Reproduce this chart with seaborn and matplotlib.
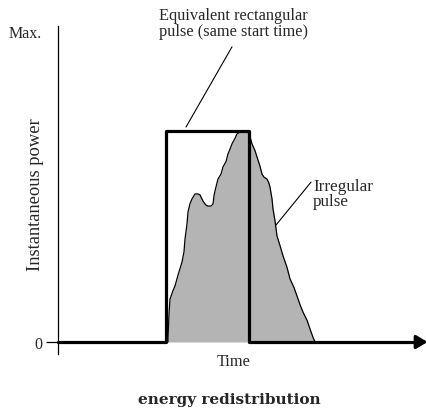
import matplotlib
matplotlib.use("Agg")
import matplotlib.pyplot as plt
import seaborn as sns
import pandas as pd

# Irregular pulse outline (time, instantaneous power as a fraction of Max.)
pulse_t = [11.0, 11.0, 11.1, 11.2, 11.5, 11.7, 12.0, 12.4, 12.6, 12.7, 12.9, 13.0,
           13.2, 13.4, 13.7, 14.0, 14.2, 14.5, 14.8, 15.0, 15.3, 15.5, 15.6, 15.7,
           16.0, 16.3, 16.5, 16.8, 17.0, 17.2, 17.4, 17.7, 17.9, 18.2, 18.6, 19.0,
           19.2, 19.4, 19.7, 19.9, 20.2, 20.4, 20.6, 20.9, 21.1, 21.2, 21.4, 21.5,
           21.7, 21.9, 22.2, 22.5, 22.9, 23.2, 23.6, 23.9, 24.2, 24.5, 24.9, 25.2,
           25.5, 25.7]
pulse_p = [0.0, 0.016, 0.09, 0.138, 0.165, 0.18, 0.215, 0.257, 0.29, 0.331, 0.38, 0.418,
           0.445, 0.46, 0.476, 0.476, 0.473, 0.453, 0.44, 0.437, 0.437, 0.444, 0.47, 0.486,
           0.524, 0.54, 0.563, 0.58, 0.605, 0.62, 0.637, 0.655, 0.669, 0.675, 0.675, 0.675,
           0.66, 0.637, 0.615, 0.595, 0.565, 0.54, 0.53, 0.524, 0.51, 0.498, 0.46, 0.428,
           0.39, 0.341, 0.31, 0.277, 0.24, 0.203, 0.175, 0.148, 0.12, 0.096, 0.07, 0.042,
           0.015, 0.0]

# Equivalent rectangular pulse, drawn as a step along the time axis
rect_t = [0.0, 10.8, 10.8, 19.1, 19.1, 36.2]
rect_p = [0.0, 0.0, 0.678, 0.678, 0.0, 0.0]

y_ticks = [0.0, 1.0]
y_tick_labels = ["0", "Max."]

sns.set_theme(style="white")
plt.rcParams["font.family"] = ["Liberation Serif", "DejaVu Serif"]

fig = plt.figure(figsize=(4.27, 4.10), dpi=100)
ax = fig.add_axes([58 / 427, 55 / 410, 369 / 427, 328 / 410])
ax.set_xlim(0, 36.9)
ax.set_ylim(-0.0386, 1.016)

pulse_df = pd.DataFrame({"t": pulse_t, "p": pulse_p})
rect_df = pd.DataFrame({"t": rect_t, "p": rect_p})

ax.fill_between(pulse_df["t"], pulse_df["p"], 0, color="#b4b4b4", lw=0, zorder=1)
sns.lineplot(data=pulse_df, x="t", y="p", sort=False, estimator=None,
             color="black", lw=0.9, ax=ax, zorder=2)
sns.lineplot(data=rect_df, x="t", y="p", sort=False, estimator=None,
             color="black", lw=2.3, ax=ax, zorder=3, clip_on=False)

# Arrowhead at the end of the time axis
ax.annotate("", xy=(36.95, 0), xytext=(35.8, 0), xycoords="data",
            arrowprops=dict(arrowstyle="-|>,head_length=0.55,head_width=0.33",
                            color="black", lw=2.3, shrinkA=0, shrinkB=0),
            annotation_clip=False)

# Axes styling: only the left spine, with a single tick at zero
for side in ("top", "right", "bottom"):
    ax.spines[side].set_visible(False)
ax.spines["left"].set_color("black")
ax.spines["left"].set_linewidth(0.9)
ax.set_xticks([])
ax.set_yticks(y_ticks)
ax.set_yticklabels(y_tick_labels, fontsize=11.5)
ax.tick_params(axis="y", direction="out", length=8.6, width=0.9, color="black",
               pad=3, left=True)
ax.yaxis.get_major_ticks()[1].tick1line.set_visible(False)
ax.set_xlabel("")
ax.set_ylabel("")

ax.text(-2.3, 0.477, "Instantaneous power", rotation=90,
        ha="center", va="center", fontsize=13.3)
ax.text(17.55, -0.061, "Time", ha="center", va="center", fontsize=11.8)

# Callouts
ax.plot([17.4, 12.8], [0.949, 0.691], color="black", lw=0.8, clip_on=False)
ax.text(17.55, 1.026, "Equivalent rectangular\npulse (same start time)",
        ha="center", va="center", fontsize=11.8, linespacing=1.05)
ax.plot([25.3, 21.8], [0.514, 0.376], color="black", lw=0.8, clip_on=False)
ax.text(25.5, 0.477, "Irregular\npulse", ha="left", va="center",
        fontsize=12.3, linespacing=0.95)

fig.text(229 / 427, 10 / 410, "energy redistribution", ha="center", va="center",
         fontsize=11, fontweight="bold", family="DejaVu Serif")

fig.savefig("out.png", dpi=100)
